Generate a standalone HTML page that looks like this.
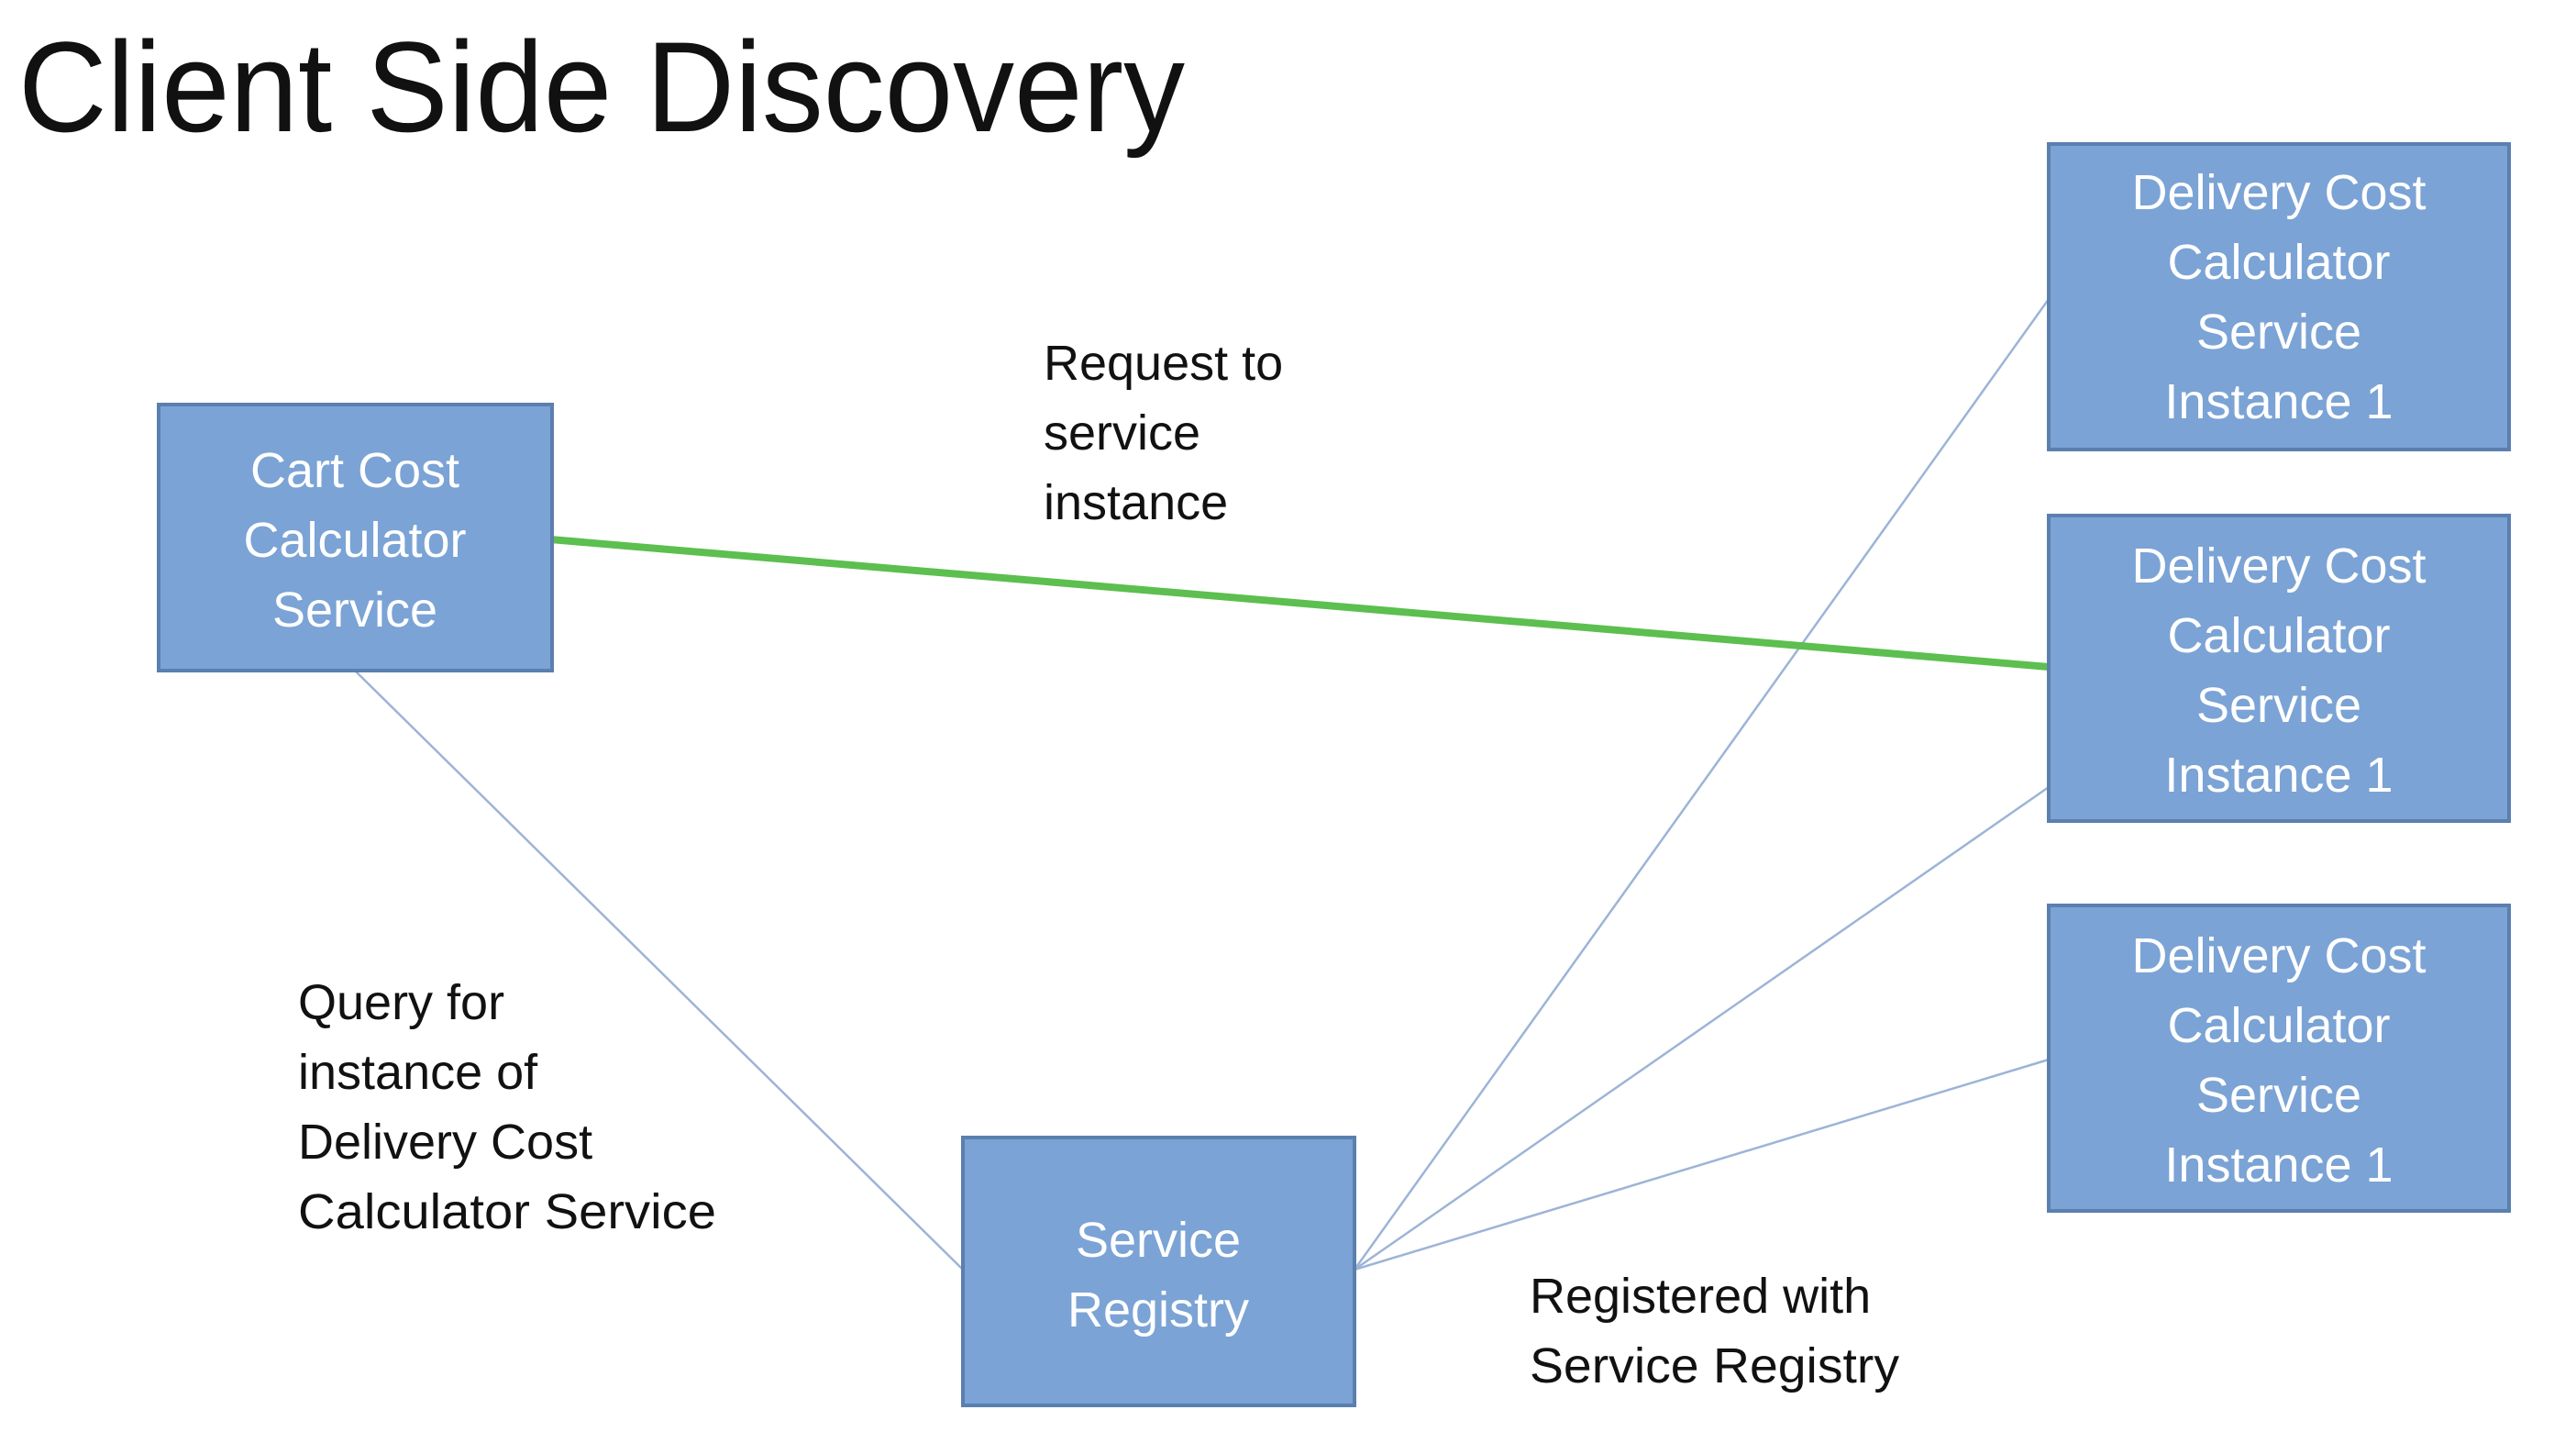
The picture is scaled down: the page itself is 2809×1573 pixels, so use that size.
<!DOCTYPE html>
<html><head><meta charset="utf-8"><style>
html,body{margin:0;padding:0;background:#fff;}
svg{display:block;}
text{font-family:"Liberation Sans",sans-serif;}
</style></head><body>
<svg width="2809" height="1573" viewBox="0 0 2809 1573" xmlns="http://www.w3.org/2000/svg">
<rect width="2809" height="1573" fill="#fff"/>
<text x="20" y="143" font-size="140" fill="#111" textLength="1272" lengthAdjust="spacingAndGlyphs">Client Side Discovery</text>

<g stroke="#9db4d6" stroke-width="2.5" fill="none">
<line x1="387" y1="731" x2="1050" y2="1384"/>
<line x1="1477" y1="1384" x2="2234" y2="326"/>
<line x1="1477" y1="1384" x2="2234" y2="858"/>
<line x1="1477" y1="1384" x2="2234" y2="1155"/>
</g>
<line x1="600" y1="588" x2="2234" y2="727" stroke="#5cbf4f" stroke-width="8"/>

<g fill="#7ba3d5" stroke="#5b7fae" stroke-width="4">
<rect x="173" y="441" width="429" height="290"/>
<rect x="1050" y="1240" width="427" height="292"/>
<rect x="2234" y="157" width="502" height="333"/>
<rect x="2234" y="562" width="502" height="333"/>
<rect x="2234" y="987" width="502" height="333"/>
</g>

<g fill="#fff" font-size="54" text-anchor="middle">
<text x="387" y="531">Cart Cost</text>
<text x="387" y="607">Calculator</text>
<text x="387" y="683">Service</text>
<text x="1263" y="1370">Service</text>
<text x="1263" y="1446">Registry</text>
<text x="2485" y="228">Delivery Cost</text>
<text x="2485" y="304">Calculator</text>
<text x="2485" y="380">Service</text>
<text x="2485" y="456">Instance 1</text>
<text x="2485" y="635">Delivery Cost</text>
<text x="2485" y="711">Calculator</text>
<text x="2485" y="787">Service</text>
<text x="2485" y="863">Instance 1</text>
<text x="2485" y="1060">Delivery Cost</text>
<text x="2485" y="1136">Calculator</text>
<text x="2485" y="1212">Service</text>
<text x="2485" y="1288">Instance 1</text>
</g>

<g fill="#111" font-size="54">
<text x="1138" y="414">Request to</text>
<text x="1138" y="490">service</text>
<text x="1138" y="566">instance</text>
<text x="325" y="1111">Query for</text>
<text x="325" y="1187">instance of</text>
<text x="325" y="1263">Delivery Cost</text>
<text x="325" y="1339" textLength="456" lengthAdjust="spacingAndGlyphs">Calculator Service</text>
<text x="1668" y="1431">Registered with</text>
<text x="1668" y="1507" textLength="403" lengthAdjust="spacingAndGlyphs">Service Registry</text>
</g>
</svg>
</body></html>
